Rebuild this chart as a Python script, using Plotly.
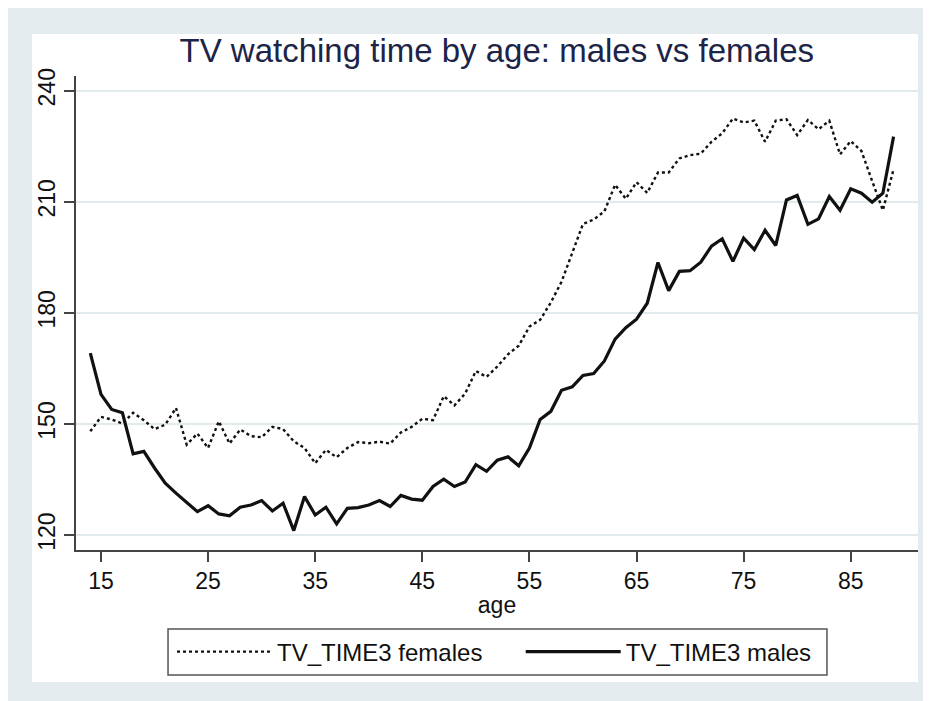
import plotly.graph_objects as go

ages = list(range(14, 90))

females = [148.0, 151.9, 151.2, 150.1, 153.0, 151.0, 148.6, 149.8, 154.3, 144.4,
           147.4, 143.5, 150.7, 144.7, 148.5, 146.7, 146.4, 149.2, 148.6, 145.3,
           143.5, 139.4, 143.0, 141.0, 143.5, 145.1, 144.8, 145.2, 144.7, 147.7,
           149.2, 151.4, 151.0, 157.5, 155.0, 158.2, 164.3, 162.7, 165.5, 168.8,
           171.1, 176.3, 178.1, 182.8, 188.4, 196.4, 204.0, 205.2, 207.4, 214.6,
           210.8, 215.3, 212.4, 217.9, 217.9, 221.7, 222.6, 223.0, 226.2, 228.5,
           232.5, 231.4, 231.9, 226.2, 231.9, 232.3, 228.0, 232.1, 229.6, 231.9,
           222.8, 226.4, 223.7, 215.6, 207.7, 218.8]

males = [169.1, 158.0, 153.9, 153.0, 141.9, 142.6, 138.1, 134.0, 131.3, 128.8,
         126.3, 127.9, 125.7, 125.2, 127.5, 128.1, 129.3, 126.5, 128.6, 121.2,
         130.4, 125.4, 127.5, 123.0, 127.2, 127.4, 128.1, 129.3, 127.7, 130.7,
         129.7, 129.4, 133.1, 135.1, 133.1, 134.3, 139.0, 137.2, 140.2, 141.1,
         138.7, 143.5, 151.2, 153.4, 159.1, 160.0, 163.1, 163.6, 167.0, 172.9,
         176.0, 178.3, 182.6, 193.6, 186.0, 191.2, 191.4, 193.7, 198.0, 200.0,
         193.9, 200.2, 197.1, 202.3, 198.2, 210.5, 211.7, 203.9, 205.4, 211.4,
         207.7, 213.5, 212.3, 209.9, 212.3, 227.6]

x_ticks = [15, 25, 35, 45, 55, 65, 75, 85]
y_ticks = [120, 150, 180, 210, 240]

FONT = "Liberation Sans, Arial, sans-serif"
NB = "\u00a0"

fig = go.Figure()
fig.add_trace(go.Scatter(x=ages, y=females, mode="lines",
                         name="TV_TIME3 females" + NB * 5,
                         line=dict(color="#111111", width=2.4, dash="dot")))
fig.add_trace(go.Scatter(x=ages, y=males, mode="lines", name="TV_TIME3 males",
                         line=dict(color="#111111", width=3.2)))

shapes = [
    # inner white panel
    dict(type="rect", xref="paper", yref="paper", x0=-0.05226, x1=1.0, y0=-0.2785, y1=1.0886,
         fillcolor="white", line=dict(width=0), layer="below"),
    # legend frame
    dict(type="rect", xref="paper", yref="paper", x0=0.1093, x1=0.8919, y0=-0.2637, y1=-0.1667,
         fillcolor="rgba(0,0,0,0)", line=dict(color="#555555", width=1.5), layer="above"),
]

fig.update_layout(
    width=931, height=701,
    margin=dict(l=68, r=21, t=68, b=159),
    paper_bgcolor="#e5ecef",
    plot_bgcolor="rgba(0,0,0,0)",
    font=dict(family=FONT, size=23, color="#111111"),
    title=dict(text="TV watching time by age: males vs females",
               x=0.525, xanchor="center", y=0.940, yanchor="middle",
               font=dict(family=FONT, size=33, color="#1c2447")),
    shapes=shapes,
    showlegend=True,
    legend=dict(orientation="h", x=0.1140, xanchor="left", y=-0.2152, yanchor="middle",
                bgcolor="rgba(0,0,0,0)", borderwidth=0,
                font=dict(family=FONT, size=24, color="#111111"),
                itemwidth=95, traceorder="normal"),
    xaxis=dict(range=[12.666, 91.28], tickvals=x_ticks, ticks="outside", ticklen=10,
               tickwidth=1.5, tickcolor="#444444", showline=True, linecolor="#444444",
               linewidth=1.5, showgrid=False, zeroline=False,
               tickfont=dict(family=FONT, size=23, color="#111111"),
               title=dict(text="age", font=dict(family=FONT, size=23, color="#111111"),
                          standoff=4)),
    yaxis=dict(range=[115.95, 243.97], tickvals=y_ticks, ticks="outside", ticklen=10,
               tickwidth=1.5, tickcolor="#444444", showline=True, linecolor="#444444",
               linewidth=1.5, showgrid=True, gridcolor="#e1ebee", gridwidth=1.5,
               zeroline=False, tickangle=-90,
               tickfont=dict(family=FONT, size=23, color="#111111")),
)

fig.write_html("out.html")
